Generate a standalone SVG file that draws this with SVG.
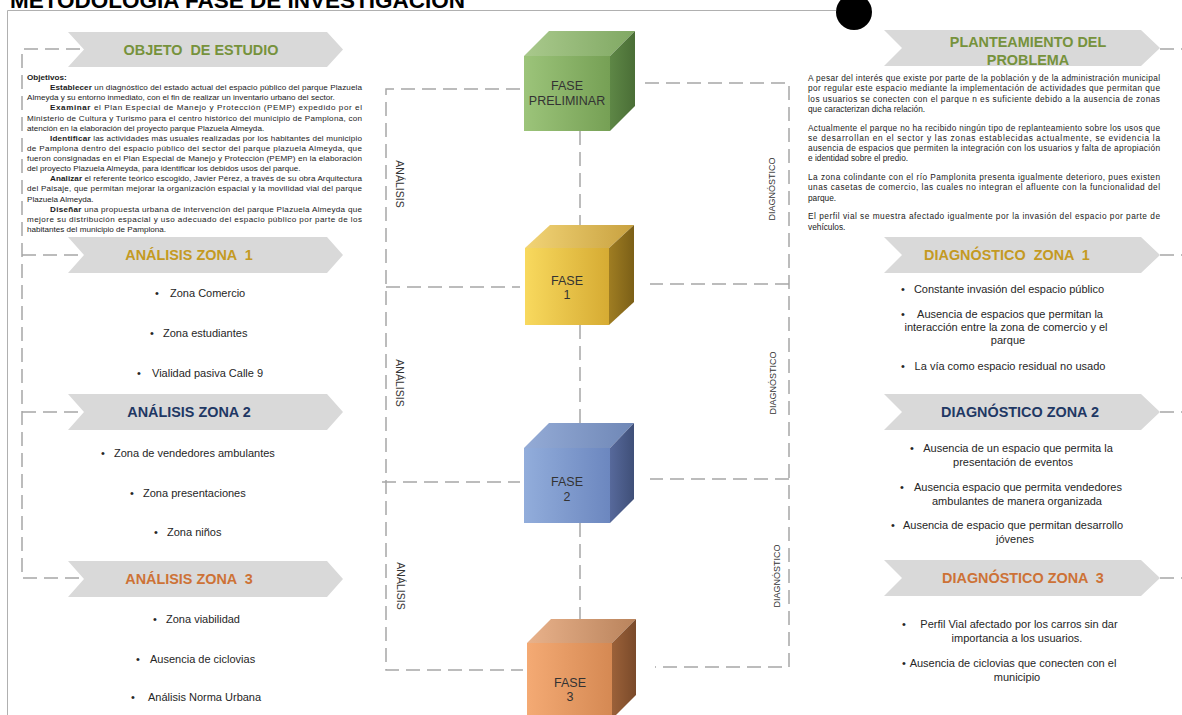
<svg xmlns="http://www.w3.org/2000/svg" width="1182" height="715" viewBox="0 0 1182 715">
<defs>
<style>
text{font-family:"Liberation Sans",Arial,sans-serif}
.body{font-size:8.1px;fill:#1a1a1a}
.rbody{font-size:8.3px;fill:#1a1a1a}
.b{font-weight:bold}
.li{font-size:11px;fill:#262626}
.lic{font-size:11px;fill:#262626;text-anchor:middle}
.hd{font-size:14.4px;font-weight:bold;text-anchor:middle}
.chev{fill:#d9d9d9}
.dash{fill:none;stroke:#a6a6a6;stroke-width:1.5;stroke-dasharray:14 7}
.va{font-size:10.5px;fill:#333;text-anchor:middle}
.vd{font-size:9px;fill:#333;text-anchor:middle}
.ct{font-size:12.5px;fill:#333;text-anchor:middle}
.frame{fill:none;stroke:#b0b0b0;stroke-width:1}
</style>
<linearGradient id="gF" x1="0" x2="1" y1="0" y2="0"><stop offset="0" stop-color="#9cc47a"/><stop offset="1" stop-color="#76a055"/></linearGradient>
<linearGradient id="gT" x1="0" x2="1" y1="0" y2="0"><stop offset="0" stop-color="#a9c98c"/><stop offset="1" stop-color="#80a863"/></linearGradient>
<linearGradient id="gR" x1="0" x2="1" y1="0" y2="0"><stop offset="0" stop-color="#5e8746"/><stop offset="1" stop-color="#4a6e36"/></linearGradient>
<linearGradient id="yF" x1="0" x2="1" y1="0" y2="0"><stop offset="0" stop-color="#f8d95e"/><stop offset="1" stop-color="#d6ab33"/></linearGradient>
<linearGradient id="yT" x1="0" x2="1" y1="0" y2="0"><stop offset="0" stop-color="#f2d476"/><stop offset="1" stop-color="#c8a140"/></linearGradient>
<linearGradient id="yR" x1="0" x2="1" y1="0" y2="0"><stop offset="0" stop-color="#9f7d22"/><stop offset="1" stop-color="#7b5f17"/></linearGradient>
<linearGradient id="bF" x1="0" x2="1" y1="0" y2="0"><stop offset="0" stop-color="#92addb"/><stop offset="1" stop-color="#6c87bf"/></linearGradient>
<linearGradient id="bT" x1="0" x2="1" y1="0" y2="0"><stop offset="0" stop-color="#94abd6"/><stop offset="1" stop-color="#6f87b6"/></linearGradient>
<linearGradient id="bR" x1="0" x2="1" y1="0" y2="0"><stop offset="0" stop-color="#57699b"/><stop offset="1" stop-color="#3f4f78"/></linearGradient>
<linearGradient id="oF" x1="0" x2="1" y1="0" y2="0"><stop offset="0" stop-color="#f4aa74"/><stop offset="1" stop-color="#d58953"/></linearGradient>
<linearGradient id="oT" x1="0" x2="1" y1="0" y2="0"><stop offset="0" stop-color="#e9b28b"/><stop offset="1" stop-color="#b9835c"/></linearGradient>
<linearGradient id="oR" x1="0" x2="1" y1="0" y2="0"><stop offset="0" stop-color="#9b6139"/><stop offset="1" stop-color="#7a4a2a"/></linearGradient>
</defs>
<rect width="1182" height="715" fill="#ffffff"/>

<g id="title">
<text x="10" y="8" font-size="22.5" font-weight="bold" fill="#000">METODOLOGÍA FASE DE INVESTIGACIÓN</text>
<path class="frame" d="M7.5,715 V10.5 H836"/>
<circle cx="854" cy="12" r="18" fill="#000"/>
</g>

<g id="connectors">
<path class="dash" d="M80,49 H22 V578 H80 M22,255 H80 M22,412 H80"/>
<path class="dash" d="M1160,49 H1182 M1160,255 H1182 M1160,412 H1182 M1160,578 H1182"/>
<path class="dash" d="M520,89 H386 V670 H523 M386,287 H520 M382,482 H520"/>
<path class="dash" d="M645,83 H789 V667 H655 M789,284 H650 M789,479 H650"/>
<path class="dash" d="M580,131 V236 M580,325 V432 M580,523 V628"/>
</g>

<g id="objeto-estudio">
<polygon class="chev" points="68,32 327,32 343,49.5 327,67 68,67 84,49.5"/>
<text class="hd" x="201" y="54.5" fill="#76923c" xml:space="preserve">OBJETO  DE ESTUDIO</text>
<text class="body b" x="27" y="80">Objetivos:</text>
<text class="body" x="50" y="90.1" textLength="312" lengthAdjust="spacing"><tspan class="b">Establecer</tspan> un diagnóstico del estado actual del espacio público del parque Plazuela</text>
<text class="body" x="27" y="100.3">Almeyda y su entorno inmediato, con el fin de realizar un inventario urbano del sector.</text>
<text class="body" x="50" y="110.4" textLength="312" lengthAdjust="spacing"><tspan class="b">Examinar</tspan> el Plan Especial de Manejo y Protección (PEMP) expedido por el</text>
<text class="body" x="27" y="120.5" textLength="335" lengthAdjust="spacing">Ministerio de Cultura y Turismo para el centro histórico del municipio de Pamplona, con</text>
<text class="body" x="27" y="130.7">atención en la elaboración del proyecto parque Plazuela Almeyda.</text>
<text class="body" x="50" y="140.8" textLength="312" lengthAdjust="spacing"><tspan class="b">Identificar</tspan> las actividades más usuales realizadas por los habitantes del municipio</text>
<text class="body" x="27" y="150.9" textLength="335" lengthAdjust="spacing">de Pamplona dentro del espacio público del sector del parque plazuela Almeyda, que</text>
<text class="body" x="27" y="161" textLength="335" lengthAdjust="spacing">fueron consignadas en el Plan Especial de Manejo y Protección (PEMP) en la elaboración</text>
<text class="body" x="27" y="171.2">del proyecto Plazuela Almeyda, para identificar los debidos usos del parque.</text>
<text class="body" x="50" y="181.3" textLength="312" lengthAdjust="spacing"><tspan class="b">Analizar</tspan> el referente teórico escogido, Javier Pérez, a través de su obra Arquitectura</text>
<text class="body" x="27" y="191.4" textLength="335" lengthAdjust="spacing">del Paisaje, que permitan mejorar la organización espacial y la movilidad vial del parque</text>
<text class="body" x="27" y="201.6">Plazuela Almeyda.</text>
<text class="body" x="50" y="211.7" textLength="312" lengthAdjust="spacing"><tspan class="b">Diseñar</tspan> una propuesta urbana de intervención del parque Plazuela Almeyda que</text>
<text class="body" x="27" y="221.8" textLength="335" lengthAdjust="spacing">mejore su distribución espacial y uso adecuado del espacio público por parte de los</text>
<text class="body" x="27" y="232">habitantes del municipio de Pamplona.</text>
</g>

<g id="analisis-zona-1">
<polygon class="chev" points="68,237 327,237 343,255 327,273 68,273 84,255"/>
<text class="hd" x="189" y="260" fill="#c49a22" xml:space="preserve">ANÁLISIS ZONA  1</text>
<text class="li" x="155" y="297">•</text><text class="li" x="170" y="297">Zona Comercio</text>
<text class="li" x="150" y="337">•</text><text class="li" x="163" y="337">Zona estudiantes</text>
<text class="li" x="137" y="377">•</text><text class="li" x="152" y="377">Vialidad pasiva Calle 9</text>
</g>

<g id="analisis-zona-2">
<polygon class="chev" points="68,394 327,394 343,412 327,430 68,430 84,412"/>
<text class="hd" x="189" y="417" fill="#1f3864">ANÁLISIS ZONA 2</text>
<text class="li" x="101" y="457">•</text><text class="li" x="114" y="457">Zona de vendedores ambulantes</text>
<text class="li" x="130" y="497">•</text><text class="li" x="143" y="497">Zona presentaciones</text>
<text class="li" x="154" y="536">•</text><text class="li" x="167" y="536">Zona niños</text>
</g>

<g id="analisis-zona-3">
<polygon class="chev" points="68,561 327,561 343,579 327,597 68,597 84,579"/>
<text class="hd" x="189" y="584" fill="#cd7236" xml:space="preserve">ANÁLISIS ZONA  3</text>
<text class="li" x="153" y="623">•</text><text class="li" x="166" y="623">Zona viabilidad</text>
<text class="li" x="136" y="663">•</text><text class="li" x="150" y="663">Ausencia de ciclovias</text>
<text class="li" x="131" y="701">•</text><text class="li" x="148" y="701">Análisis Norma Urbana</text>
</g>

<g id="labels">
<text class="va" transform="translate(396,184) rotate(90)">ANÁLISIS</text>
<text class="va" transform="translate(396,383) rotate(90)">ANÁLISIS</text>
<text class="va" transform="translate(397,586) rotate(90)">ANÁLISIS</text>
<text class="vd" transform="translate(775,189) rotate(-90)">DIAGNÓSTICO</text>
<text class="vd" transform="translate(776,383) rotate(-90)">DIAGNÓSTICO</text>
<text class="vd" transform="translate(780,576) rotate(-90)">DIAGNÓSTICO</text>
</g>

<g id="fase-preliminar">
<polygon fill="url(#gT)" points="524,56 549,31 635,31 610,56"/>
<polygon fill="url(#gR)" points="610,56 635,31 635,106 610,131"/>
<rect x="524" y="56" width="86" height="75" fill="url(#gF)"/>
<text class="ct" x="567" y="89.5">FASE</text>
<text class="ct" x="567" y="104.5">PRELIMINAR</text>
</g>

<g id="fase-1">
<polygon fill="url(#yT)" points="525,248 550,225 634,225 609,248"/>
<polygon fill="url(#yR)" points="609,248 634,225 634,302 609,325"/>
<rect x="525" y="248" width="84" height="77" fill="url(#yF)"/>
<text class="ct" x="567" y="284.5">FASE</text>
<text class="ct" x="567" y="299">1</text>
</g>

<g id="fase-2">
<polygon fill="url(#bT)" points="524,448 549,423 634,423 610,448"/>
<polygon fill="url(#bR)" points="610,448 634,423 634,499 610,523"/>
<rect x="524" y="448" width="86" height="75" fill="url(#bF)"/>
<text class="ct" x="567" y="485.5" fill="#1f2a4a">FASE</text>
<text class="ct" x="567" y="501" fill="#1f2a4a">2</text>
</g>

<g id="fase-3">
<polygon fill="url(#oT)" points="527,643 551,619 636,619 612,643"/>
<polygon fill="url(#oR)" points="612,643 636,619 636,695 612,719"/>
<rect x="527" y="643" width="85" height="76" fill="url(#oF)"/>
<text class="ct" x="570" y="686.5">FASE</text>
<text class="ct" x="570" y="701">3</text>
</g>

<g id="planteamiento">
<polygon class="chev" points="884,30 1141,30 1160,48 1141,66 884,66 902,48"/>
<text class="hd" x="1028" y="47" fill="#76923c">PLANTEAMIENTO DEL</text>
<text class="hd" x="1028" y="65" fill="#76923c">PROBLEMA</text>
<text class="rbody" x="808" y="81" textLength="352" lengthAdjust="spacing">A pesar del interés que existe por parte de la población y de la administración municipal</text>
<text class="rbody" x="808" y="91.3" textLength="352" lengthAdjust="spacing">por regular este espacio mediante la implementación de actividades que permitan que</text>
<text class="rbody" x="808" y="101.6" textLength="352" lengthAdjust="spacing">los usuarios se conecten con el parque n es suficiente debido a la ausencia de zonas</text>
<text class="rbody" x="808" y="111.9">que caracterizan dicha relación.</text>
<text class="rbody" x="808" y="130.5" textLength="352" lengthAdjust="spacing">Actualmente el parque no ha recibido ningún tipo de replanteamiento sobre los usos que</text>
<text class="rbody" x="808" y="140.8" textLength="352" lengthAdjust="spacing">se desarrollan en el sector y las zonas establecidas actualmente, se evidencia la</text>
<text class="rbody" x="808" y="151.1" textLength="352" lengthAdjust="spacing">ausencia de espacios que permiten la integración con los usuarios y falta de apropiación</text>
<text class="rbody" x="808" y="161.4">e identidad sobre el predio.</text>
<text class="rbody" x="808" y="180" textLength="352" lengthAdjust="spacing">La zona colindante con el río Pamplonita presenta igualmente deterioro, pues existen</text>
<text class="rbody" x="808" y="190.3" textLength="352" lengthAdjust="spacing">unas casetas de comercio, las cuales no integran el afluente con la funcionalidad del</text>
<text class="rbody" x="808" y="200.6">parque.</text>
<text class="rbody" x="808" y="219.2" textLength="352" lengthAdjust="spacing">El perfil vial se muestra afectado igualmente por la invasión del espacio por parte de</text>
<text class="rbody" x="808" y="229.5">vehículos.</text>
</g>

<g id="diagnostico-zona-1">
<polygon class="chev" points="884,237 1141,237 1160,255 1141,273 884,273 902,255"/>
<text class="hd" x="1007" y="260" fill="#c49a22" xml:space="preserve">DIAGNÓSTICO  ZONA  1</text>
<text class="li" x="901" y="293">•</text><text class="lic" x="1009" y="293">Constante invasión del espacio público</text>
<text class="li" x="901" y="318">•</text><text class="lic" x="1010" y="318">Ausencia de espacios que permitan la</text>
<text class="lic" x="1006" y="331">interacción entre la zona de comercio y el</text>
<text class="lic" x="1008" y="344">parque</text>
<text class="li" x="901" y="370">•</text><text class="lic" x="1010" y="370">La vía como espacio residual no usado</text>
</g>

<g id="diagnostico-zona-2">
<polygon class="chev" points="884,394 1141,394 1160,412 1141,430 884,430 902,412"/>
<text class="hd" x="1020" y="417" fill="#1f3864">DIAGNÓSTICO ZONA 2</text>
<text class="li" x="910" y="452">•</text><text class="lic" x="1018" y="452">Ausencia de un espacio que permita la</text>
<text class="lic" x="1013" y="466">presentación de eventos</text>
<text class="li" x="900" y="491">•</text><text class="lic" x="1018" y="491">Ausencia espacio que permita vendedores</text>
<text class="lic" x="1017" y="505">ambulantes de manera organizada</text>
<text class="li" x="891" y="529">•</text><text class="lic" x="1013" y="529">Ausencia de espacio que permitan desarrollo</text>
<text class="lic" x="1015" y="543">jóvenes</text>
</g>

<g id="diagnostico-zona-3">
<polygon class="chev" points="884,560 1141,560 1160,578 1141,596 884,596 902,578"/>
<text class="hd" x="1023" y="583" fill="#cd7236" xml:space="preserve">DIAGNÓSTICO ZONA  3</text>
<text class="li" x="902" y="628">•</text><text class="lic" x="1019" y="628">Perfil Vial afectado por los carros sin dar</text>
<text class="lic" x="1017" y="642">importancia a los usuarios.</text>
<text class="li" x="902" y="667">•</text><text class="lic" x="1013" y="667">Ausencia de ciclovias que conecten con el</text>
<text class="lic" x="1017" y="681">municipio</text>
</g>
</svg>
